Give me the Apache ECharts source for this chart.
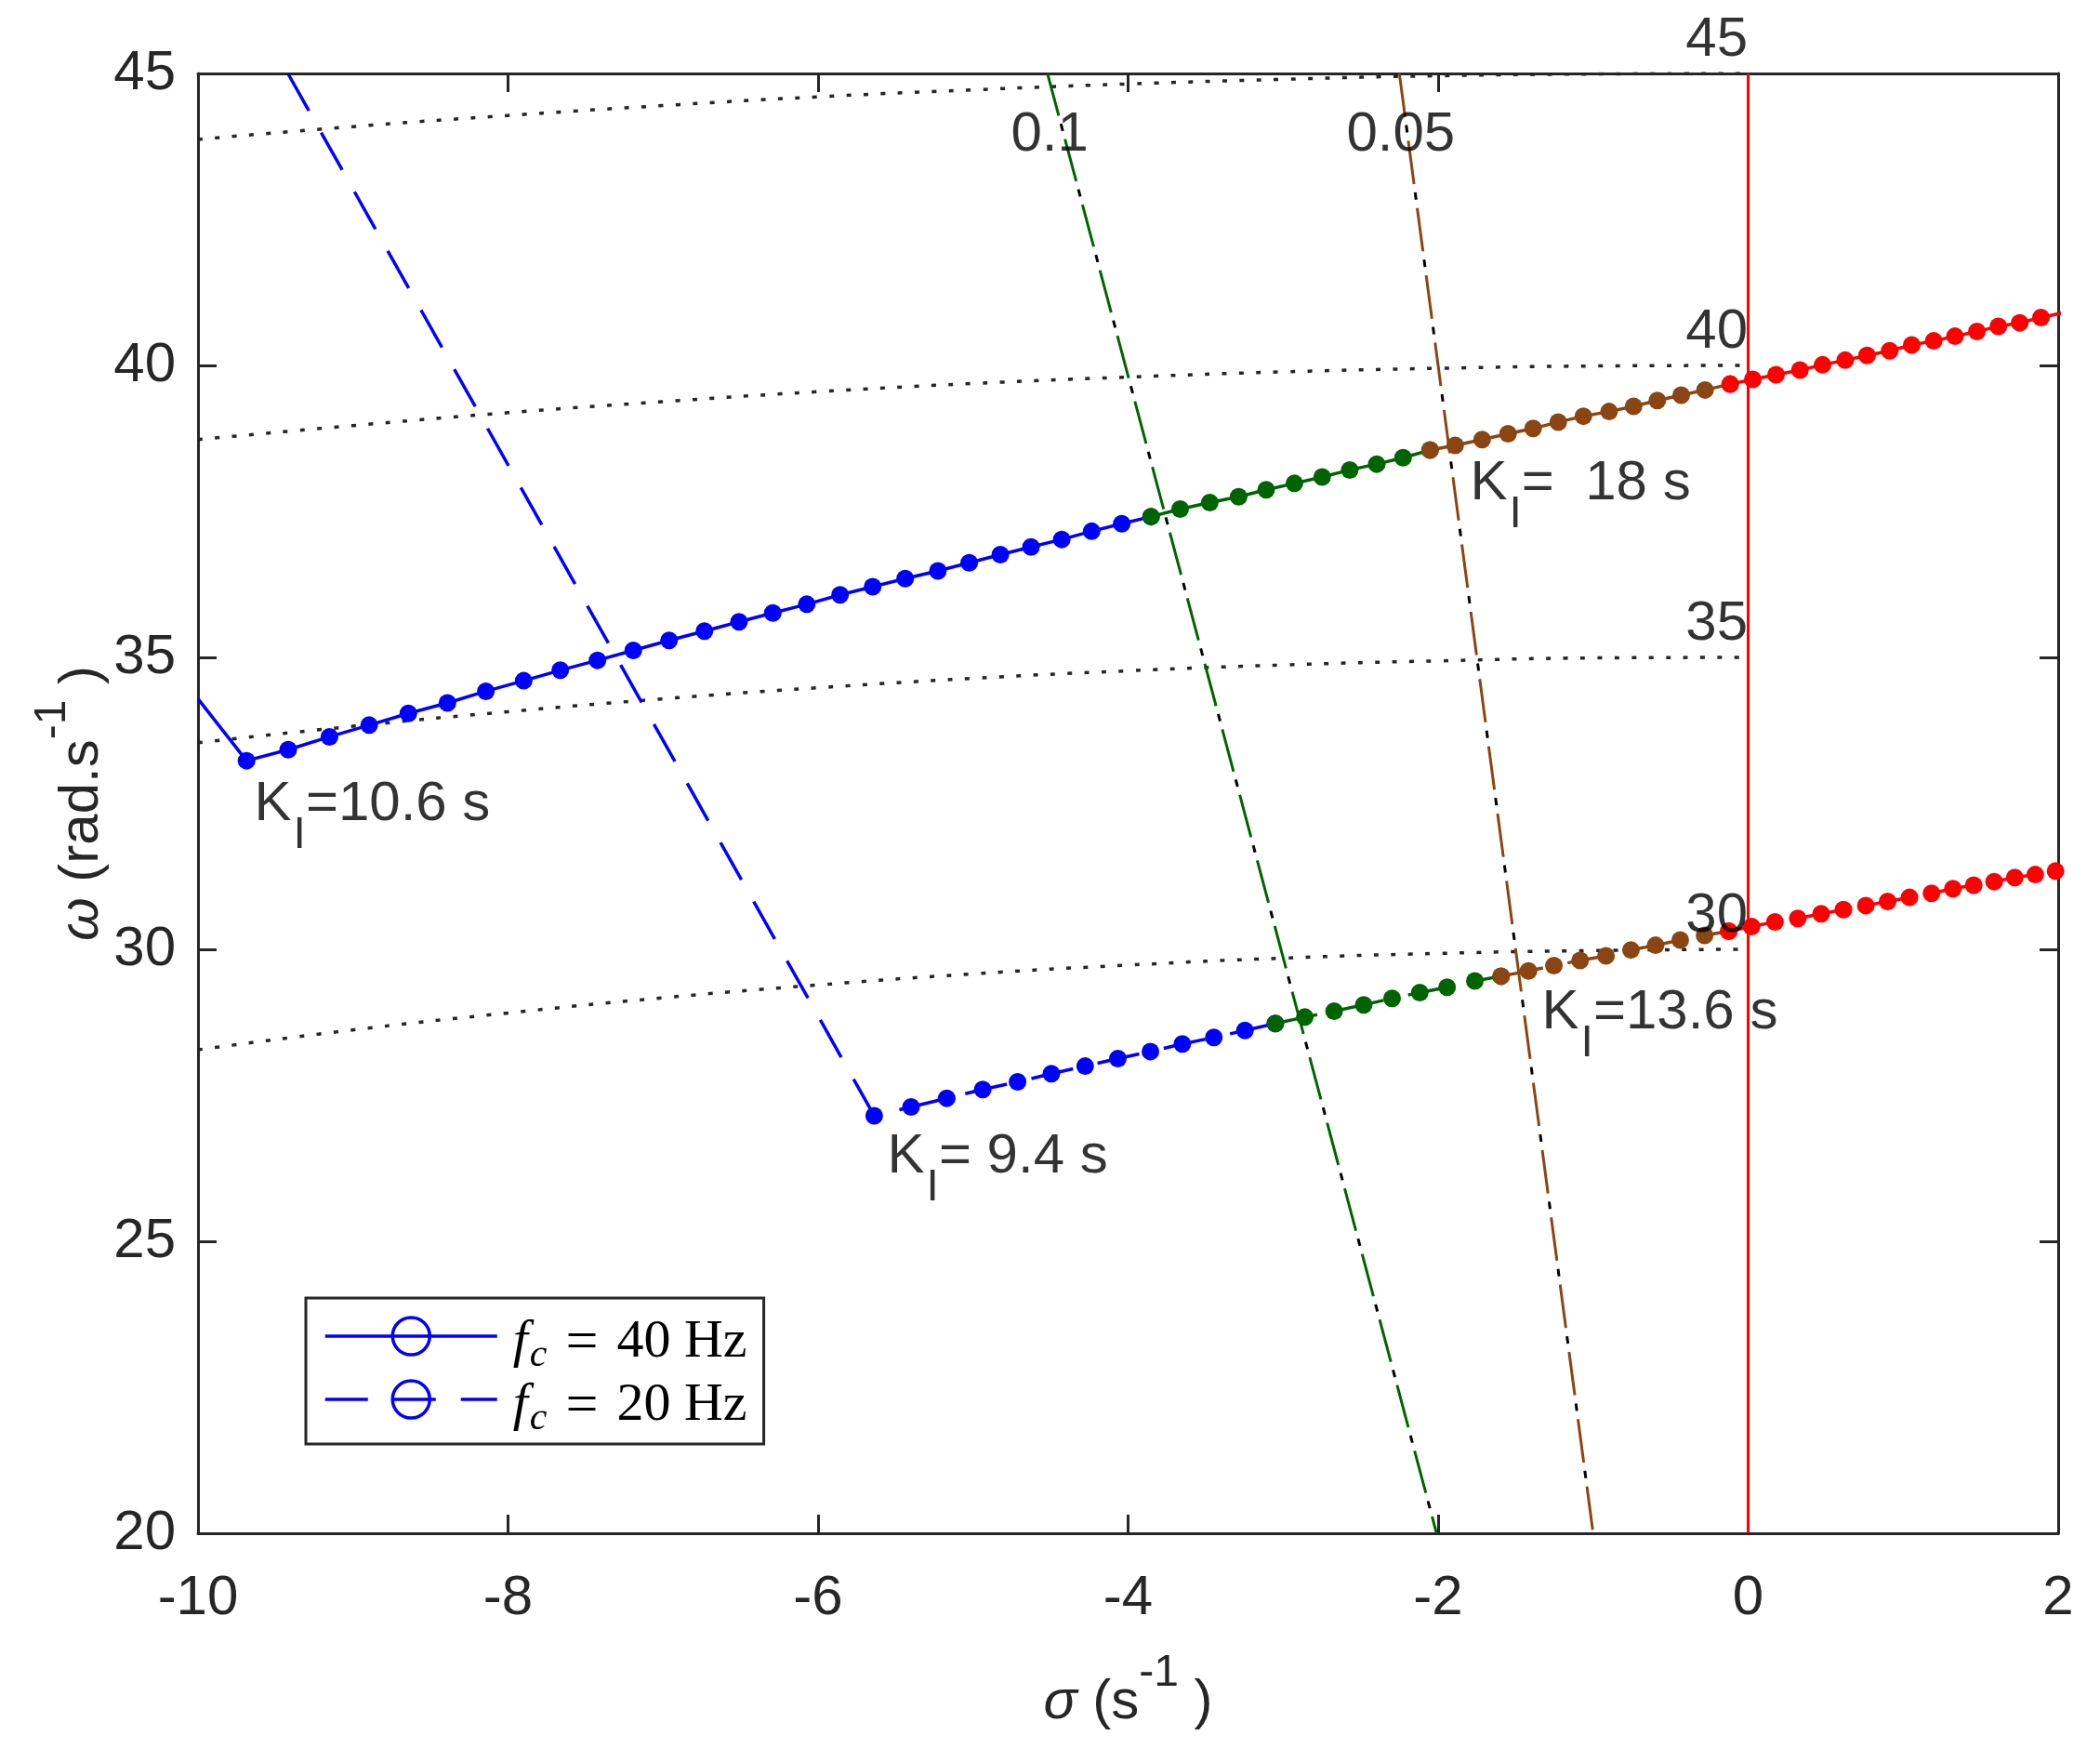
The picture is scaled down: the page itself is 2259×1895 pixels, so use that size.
<!DOCTYPE html>
<html>
<head>
<meta charset="utf-8">
<title>Root locus</title>
<script src="https://cdn.jsdelivr.net/npm/echarts@6/dist/echarts.min.js"></script>
<style>
  html, body { margin: 0; padding: 0; background: #fff; }
  #chart { width: 2259px; height: 1895px; }
</style>
</head>
<body>
<div id="chart"></div>
<script>
// ---- data ----
// fc = 40 Hz locus (one dot per K_I step of 0.2 s, from 10.6 s)
const sigma40 = [-9.687, -9.418, -9.152, -8.896, -8.643, -8.391, -8.143, -7.899, -7.663, -7.423,
  -7.192, -6.961, -6.733, -6.510, -6.292, -6.073, -5.858, -5.648, -5.438, -5.227,
  -5.025, -4.824, -4.626, -4.428, -4.235, -4.041, -3.852,
  -3.664, -3.473, -3.287, -3.109, -2.927, -2.748, -2.570, -2.396, -2.226, -2.052,
  -1.890, -1.716, -1.549, -1.387, -1.225, -1.063, -0.897, -0.739, -0.586, -0.432, -0.278, -0.116,
  0.030, 0.180, 0.334, 0.480, 0.626, 0.767, 0.913, 1.055, 1.197, 1.334, 1.476, 1.614, 1.752, 1.889];
const omega40 = [33.23, 33.42, 33.64, 33.84, 34.04, 34.22, 34.42, 34.60, 34.78, 34.95,
  35.12, 35.29, 35.45, 35.61, 35.76, 35.91, 36.07, 36.21, 36.35, 36.48,
  36.62, 36.76, 36.89, 37.02, 37.16, 37.29, 37.41,
  37.54, 37.65, 37.75, 37.87, 37.98, 38.09, 38.21, 38.31, 38.42, 38.55,
  38.63, 38.73, 38.83, 38.92, 39.03, 39.13, 39.21, 39.30, 39.40, 39.49, 39.58, 39.68,
  39.76, 39.84, 39.92, 40.01, 40.09, 40.17, 40.25, 40.35, 40.42, 40.50, 40.58, 40.67, 40.73, 40.82];
const zones40 = [27, 10, 12, 14];   // dots per zone: zeta>0.1, 0.05-0.1, 0-0.05, unstable
const lead40 = [-10.0, 34.29];
const tail40 = [2.03, 40.90];

// fc = 20 Hz locus (from K_I = 9.4 s)
const sigma20 = [-5.638, -5.400, -5.170, -4.938, -4.713, -4.495, -4.277, -4.066, -3.856, -3.650,
  -3.447, -3.246, -3.050,
  -2.860, -2.671, -2.480, -2.297, -2.118, -1.942, -1.763, -1.594,
  -1.417, -1.253, -1.084, -0.917, -0.756, -0.597, -0.438, -0.281, -0.125,
  0.022, 0.173, 0.320, 0.471, 0.615, 0.759, 0.900, 1.041, 1.183, 1.321, 1.455, 1.587, 1.720, 1.852, 1.983];
const omega20 = [27.15, 27.30, 27.45, 27.60, 27.73, 27.87, 28.00, 28.13, 28.25, 28.38,
  28.49, 28.61, 28.73,
  28.84, 28.94, 29.05, 29.16, 29.26, 29.35, 29.46, 29.54,
  29.63, 29.72, 29.81, 29.89, 29.99, 30.07, 30.16, 30.24, 30.31,
  30.39, 30.47, 30.53, 30.61, 30.68, 30.75, 30.82, 30.89, 30.96, 31.04, 31.10, 31.16, 31.23, 31.28, 31.34];
const zones20 = [13, 8, 9, 15];
const lead20 = [-9.42, 45.0];
const tail20 = [2.11, 31.40];

// constant natural frequency arcs
const arcSigma = [-10, -9, -8, -7, -6, -5, -4, -3, -2, -1, 0];
const arc45 = [43.87, 44.09, 44.28, 44.45, 44.60, 44.72, 44.82, 44.90, 44.96, 44.99, 45.0];
const arc40 = [38.73, 38.97, 39.19, 39.38, 39.55, 39.69, 39.80, 39.89, 39.95, 39.99, 40.0];
const arc35 = [33.54, 33.82, 34.07, 34.29, 34.48, 34.64, 34.77, 34.87, 34.94, 34.99, 35.0];
const arc30 = [28.28, 28.62, 28.91, 29.17, 29.39, 29.58, 29.73, 29.85, 29.93, 29.98, 30.0];
const wnLevels = [45, 40, 35, 30];

// constant damping lines zeta = 0.1 and 0.05, end points at omega 45 and 20
const zetaNames = ['0.1', '0.05'];
const zetaSigmaTop = [-4.52, -2.25];
const zetaSigmaBottom = [-2.01, -1.00];
const zetaOmega = [45, 20];

// K_I annotations
const kiText = ['=10.6 s', '=  18 s', '=13.6 s', '= 9.4 s'];

const xTicks = { min: -10, max: 2, step: 2 };
const yTicks = { min: 20, max: 45, step: 5 };

// ---- styling ----
const zoneColors = ['#0000ff', '#006400', '#8b4513', '#ff0000'];
const axisColor = '#262626';
const dash20 = [46, 27];
const sans = 'Liberation Sans';
const serif = 'Liberation Serif';

function pairs(xs, ys) {
  return xs.map((x, i) => [x, ys[i]]);
}

// colored dots, each zone's line starts from the previous zone's last dot
function zoneSeries(xs, ys, zones, tail, dash) {
  const out = [];
  let start = 0;
  zones.forEach((n, k) => {
    let pts = pairs(xs.slice(start, start + n), ys.slice(start, start + n));
    if (k > 0) pts = [[xs[start - 1], ys[start - 1]]].concat(pts);
    if (k === zones.length - 1) pts.push(tail);
    out.push({
      type: 'line', name: 'zone' + k, data: pts,
      symbol: 'circle', symbolSize: 19, showAllSymbol: true,
      itemStyle: { color: zoneColors[k] },
      lineStyle: { color: zoneColors[k], width: k === 0 ? 0 : 3.5, type: dash },
      z: 5, silent: true
    });
    start += n;
  });
  return out;
}

const series = [];

[arc45, arc40, arc35, arc30].forEach((arc, i) => {
  series.push({
    type: 'line', name: 'wn' + wnLevels[i], data: pairs(arcSigma, arc),
    symbol: 'none', smooth: true,
    lineStyle: { color: axisColor, width: 3.5, type: [5, 13.4] },
    z: 2, silent: true
  });
});

zetaNames.forEach((nm, i) => {
  const pts = [[zetaSigmaTop[i], zetaOmega[0]], [zetaSigmaBottom[i], zetaOmega[1]]];
  series.push({
    type: 'line', name: 'zk' + i, data: pts, symbol: 'none',
    lineStyle: { color: '#000', width: 3, type: [0, 56, 8, 9] }, z: 3, silent: true
  });
  series.push({
    type: 'line', name: 'zc' + i, data: pts, symbol: 'none',
    lineStyle: { color: zoneColors[i + 1], width: 3, type: [47, 26] }, z: 3, silent: true
  });
});

series.push({
  type: 'line', name: 'stab', data: [[0, yTicks.min], [0, yTicks.max]], symbol: 'none',
  lineStyle: { color: '#ff0000', width: 3 }, z: 3, silent: true
});

// main blue branches (also give the legend entries)
series.push({
  type: 'line', name: 'fc40',
  data: [lead40].concat(pairs(sigma40.slice(0, zones40[0]), omega40.slice(0, zones40[0]))),
  symbol: 'circle', showSymbol: false,
  itemStyle: { color: '#0000ff' },
  lineStyle: { color: '#0000ff', width: 3.5 }, z: 4, silent: true
});
series.push({
  type: 'line', name: 'fc20',
  data: [lead20].concat(pairs(sigma20.slice(0, zones20[0]), omega20.slice(0, zones20[0]))),
  symbol: 'circle', showSymbol: false,
  itemStyle: { color: '#0000ff' },
  lineStyle: { color: '#0000ff', width: 3.5, type: dash20 }, z: 4, silent: true
});
zoneSeries(sigma40, omega40, zones40, tail40, 'solid').forEach(s => series.push(s));
zoneSeries(sigma20, omega20, zones20, tail20, dash20).forEach(s => series.push(s));

// text annotations, anchored in data coordinates
const kiAnchor = [[-9.634, 32.94], [-1.790, 38.44], [-1.328, 29.38], [-5.550, 26.91]];
const zetaAnchor = [[-4.753, 44.41], [-2.588, 44.41]];
const annot = [];
kiText.forEach((t, i) => annot.push({
  value: kiAnchor[i],
  label: { formatter: '{k|K}{i|I}{k|' + t + '}', align: 'left', verticalAlign: 'top' }
}));
wnLevels.forEach(w => annot.push({
  value: [0, w],
  label: { formatter: '{k|' + w + '}', align: 'right', verticalAlign: 'bottom', offset: [0, -5] }
}));
zetaNames.forEach((z, i) => annot.push({
  value: zetaAnchor[i],
  label: { formatter: '{k|' + z + '}', align: 'left', verticalAlign: 'top' }
}));
series.push({
  type: 'scatter', name: 'text', data: annot, symbolSize: 1, clip: false, silent: true,
  itemStyle: { color: 'rgba(0,0,0,0)' }, z: 6,
  label: {
    show: true, position: [0, 0],
    rich: {
      k: { fontFamily: sans, fontSize: 60, lineHeight: 60, verticalAlign: 'top', color: '#000' },
      i: { fontFamily: sans, fontSize: 48, lineHeight: 48, verticalAlign: 'top', color: '#000', padding: [39, 0, 0, 2] }
    }
  }
});

const tickLabel = { fontFamily: sans, fontSize: 60, lineHeight: 60, color: axisColor };
const axisLine = { onZero: false, lineStyle: { color: axisColor, width: 3 } };
const axisTick = { inside: true, length: 20, lineStyle: { color: axisColor, width: 3 } };
const nameRich = {
  s: { fontFamily: sans, fontStyle: 'italic', fontSize: 60, lineHeight: 60, verticalAlign: 'top', padding: [25, 0, 0, 0], color: axisColor },
  m: { fontFamily: sans, fontSize: 60, lineHeight: 60, verticalAlign: 'top', padding: [25, 0, 0, 0], color: axisColor },
  p: { fontFamily: sans, fontSize: 48, lineHeight: 48, verticalAlign: 'top', color: axisColor }
};

function makeX(pos, show) {
  return {
    type: 'value', position: pos, min: xTicks.min, max: xTicks.max, interval: xTicks.step,
    axisLine, axisTick, splitLine: { show: false },
    axisLabel: Object.assign({ show, margin: 40 }, tickLabel),
    name: show ? '{s|σ}{m| (s}{p|-1}{m| )}' : '', nameLocation: 'middle', nameGap: 127,
    nameMoveOverlap: false,
    nameTextStyle: { rich: nameRich }
  };
}
function makeY(pos, show) {
  return {
    type: 'value', position: pos, min: yTicks.min, max: yTicks.max, interval: yTicks.step,
    axisLine, axisTick, splitLine: { show: false },
    axisLabel: Object.assign({ show, margin: 24 }, tickLabel),
    name: show ? '{s|ω}{m| (rad.s}{p|-1}{m| )}' : '', nameLocation: 'middle', nameGap: 120,
    nameMoveOverlap: false,
    nameTextStyle: { rich: nameRich }
  };
}

const legendRich = {
  f: { fontFamily: serif, fontStyle: 'italic', fontSize: 58, lineHeight: 44, verticalAlign: 'top', color: '#000', padding: [0, 0, 0, 12] },
  c: { fontFamily: serif, fontStyle: 'italic', fontSize: 42, lineHeight: 28, verticalAlign: 'top', color: '#000', padding: [22, 0, 0, 2] },
  e: { fontFamily: serif, fontSize: 62, lineHeight: 44, verticalAlign: 'top', color: '#000', padding: [0, 20, 0, 20] },
  t: { fontFamily: serif, fontSize: 58, lineHeight: 44, verticalAlign: 'top', color: '#000' }
};

const chart = echarts.init(document.getElementById('chart'));
chart.setOption({
  animation: false,
  backgroundColor: '#fff',
  grid: { left: 213, right: 45, top: 79, bottom: 246, outerBoundsMode: 'none' },
  xAxis: [makeX('bottom', true), makeX('top', false)],
  yAxis: [makeY('left', true), makeY('right', false)],
  legend: {
    data: [
      { name: 'fc40', lineStyle: { type: 'solid' } },
      { name: 'fc20', lineStyle: { type: dash20 } }
    ],
    orient: 'vertical', left: 329, top: 1396,
    itemWidth: 185, itemHeight: 50, itemGap: 4,
    padding: [19, 18, 6, 19],
    borderColor: axisColor, borderWidth: 3, backgroundColor: '#fff',
    selectedMode: false,
    itemStyle: { color: 'rgba(0,0,0,0)', borderColor: '#0000ff', borderWidth: 3.5 },
    lineStyle: { color: '#0000ff', width: 3.5 },
    formatter: name => '{f|f}{c|c}{e|=}{t|' + (name === 'fc40' ? 40 : 20) + ' Hz}',
    textStyle: { rich: legendRich }
  },
  series
});
</script>
</body>
</html>
